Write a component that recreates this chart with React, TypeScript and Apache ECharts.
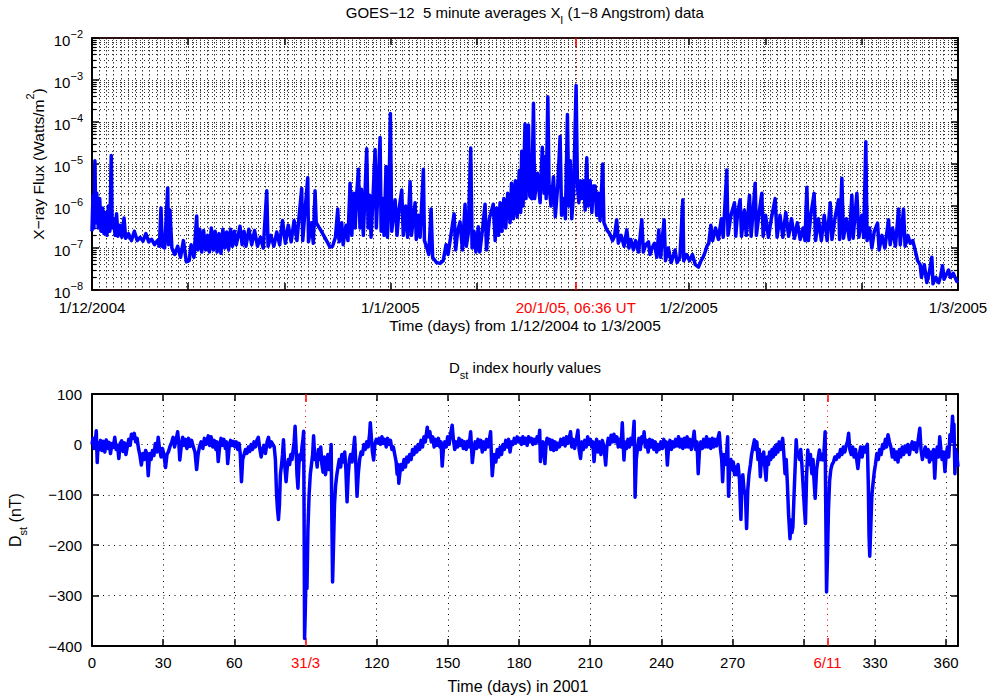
import React, { useEffect, useRef } from 'react';
import * as echarts from 'echarts';

// ---------- GOES-12 X-ray flux (days since 1/12/2004, W/m^2) ----------
const xrayPoints: [number, number][] = [
  [0.0, 2.5e-7], [0.1, 1.8e-6], [0.2, 3e-7], [0.3, 1.2e-5], [0.4, 4e-7], [0.5, 2e-6], [0.65, 3e-7], [0.8, 1.5e-6],
  [0.95, 2.5e-7], [1.1, 9e-7], [1.25, 2.2e-7], [1.4, 7e-7], [1.55, 2e-7], [1.7, 1e-6], [1.85, 2.5e-7], [2.0, 1.6e-5],
  [2.1, 3e-7], [2.25, 5e-7], [2.4, 2e-7], [2.55, 6.5e-7], [2.7, 1.9e-7], [2.9, 3.5e-7], [3.1, 1.8e-7], [3.33, 5.2e-7],
  [3.5, 1.7e-7], [3.8, 2.2e-7], [4.1, 1.5e-7], [4.4, 2.5e-7], [4.7, 1.5e-7], [5.0, 1.8e-7], [5.3, 1.45e-7], [5.6, 2.2e-7],
  [5.9, 1.4e-7], [6.2, 1.6e-7], [6.5, 1.2e-7], [6.8, 1.5e-7], [7.0, 1.1e-7], [7.17, 9e-7], [7.3, 1.1e-7], [7.55, 1e-7],
  [7.87, 2.7e-6], [7.95, 1.2e-7], [8.1, 8e-7], [8.3, 1e-7], [8.6, 7e-8], [8.9, 1.1e-7], [9.2, 6e-8], [9.5, 1.5e-7],
  [9.8, 4.7e-8], [10.1, 5e-8], [10.3, 1.2e-7], [10.6, 6e-8], [10.88, 5.8e-7], [11.0, 9e-8], [11.2, 2.8e-7], [11.4, 8e-8],
  [11.6, 2.6e-7], [11.8, 9e-8], [12.0, 2e-7], [12.2, 8e-8], [12.4, 3e-7], [12.6, 9e-8], [12.8, 2.5e-7], [13.0, 8e-8],
  [13.2, 2.2e-7], [13.4, 7.5e-8], [13.6, 2.8e-7], [13.8, 1e-7], [14.0, 2.4e-7], [14.2, 9e-8], [14.4, 2.8e-7], [14.6, 1.1e-7],
  [14.8, 2.5e-7], [15.0, 1.2e-7], [15.38, 3.3e-7], [15.6, 1.2e-7], [15.8, 2.5e-7], [16.0, 1.1e-7], [16.3, 2.8e-7], [16.6, 1.2e-7],
  [16.9, 2.6e-7], [17.2, 1.1e-7], [17.5, 1.8e-7], [17.8, 1e-7], [18.16, 2.3e-6], [18.3, 1.1e-7], [18.6, 2e-7], [18.9, 1.1e-7],
  [19.2, 2.4e-7], [19.5, 1.2e-7], [19.8, 4.5e-7], [20.1, 1.3e-7], [20.4, 3.5e-7], [20.7, 1.4e-7], [21.0, 4.5e-7], [21.3, 1.5e-7],
  [21.5, 5e-7], [21.79, 2.6e-6], [21.9, 1.5e-7], [22.1, 6e-7], [22.42, 4.7e-6], [22.5, 1.4e-7], [22.8, 4e-7], [23.0, 1.3e-7],
  [23.18, 2.3e-6], [23.3, 4e-7], [23.8, 2.6e-7], [24.3, 1.6e-7], [24.74, 1.05e-7], [25.0, 1.1e-7], [25.3, 1.8e-7], [25.54, 8.5e-7],
  [25.7, 1.4e-7], [25.95, 4e-7], [26.1, 1.2e-7], [26.4, 3.5e-7], [26.6, 1.5e-7], [26.82, 3.5e-6], [27.0, 2e-7], [27.2, 2e-6],
  [27.35, 3e-7], [27.5, 1.8e-6], [27.69, 7.5e-6], [27.85, 3e-7], [28.0, 2.5e-6], [28.2, 2e-7], [28.35, 1.5e-6], [28.55, 2.3e-5],
  [28.7, 3e-7], [28.85, 1.8e-6], [29.0, 1.8e-7], [29.2, 1.5e-6], [29.42, 2.2e-5], [29.55, 3e-7], [29.7, 2e-6], [29.94, 4.3e-5],
  [30.05, 2.5e-7], [30.2, 1.5e-6], [30.35, 2e-7], [30.56, 8.7e-6], [30.7, 1.8e-7], [30.85, 1.2e-6], [31.01, 1.6e-4], [31.15, 2.5e-7],
  [31.5, 1.4e-6], [31.7, 2e-7], [31.9, 8e-7], [32.19, 2.4e-6], [32.35, 2e-7], [32.6, 1e-6], [32.8, 1.8e-7], [33.06, 3.8e-6],
  [33.2, 2e-7], [33.58, 1.2e-6], [33.7, 1.6e-7], [33.9, 6e-7], [34.1, 1.8e-7], [34.44, 7.5e-6], [34.55, 1.5e-7], [34.8, 1e-7],
  [35.0, 7e-8], [35.24, 8.5e-7], [35.4, 6e-8], [35.8, 4.5e-8], [36.17, 4.3e-8], [36.5, 5e-8], [36.8, 1.2e-7], [37.0, 7e-8],
  [37.3, 2e-7], [37.63, 6.5e-7], [37.8, 9e-8], [38.0, 2.5e-7], [38.25, 4.2e-7], [38.5, 9e-8], [38.77, 1.1e-6], [38.9, 1.1e-7],
  [39.1, 2.2e-7], [39.36, 2.4e-5], [39.5, 1e-7], [39.7, 2.5e-7], [39.9, 8e-8], [40.14, 3.2e-7], [40.3, 8e-8], [40.6, 3e-7],
  [40.85, 1.1e-6], [41.0, 9e-8], [41.3, 5e-7], [41.7, 1.1e-6], [41.9, 1.5e-7], [42.06, 9e-7], [42.25, 2e-7], [42.41, 1.2e-6],
  [42.6, 2.5e-7], [42.8, 1.5e-6], [43.0, 3e-7], [43.2, 2e-6], [43.45, 4e-7], [43.6, 3.5e-6], [43.8, 5e-7], [44.0, 4e-6],
  [44.2, 5.5e-7], [44.4, 7e-6], [44.55, 7e-7], [44.66, 2e-5], [44.8, 1e-6], [45.0, 9e-5], [45.1, 1.5e-6], [45.36, 8.5e-5],
  [45.5, 1.7e-6], [45.7, 1.5e-6], [45.88, 2.8e-4], [46.0, 1.5e-6], [46.3, 6e-6], [46.57, 1.2e-6], [46.8, 2.5e-5], [47.0, 2e-6],
  [47.1, 1.5e-5], [47.2, 1.5e-6], [47.37, 4e-4], [47.5, 3e-6], [47.7, 1e-6], [47.96, 5e-6], [48.15, 5.6e-7], [48.4, 3e-6],
  [48.65, 4.5e-5], [48.8, 6e-7], [49.0, 1.5e-6], [49.2, 5e-7], [49.41, 1.5e-4], [49.55, 1e-6], [49.7, 1.2e-5], [49.86, 5e-7],
  [50.05, 2e-6], [50.31, 7.4e-4], [50.45, 3e-6], [50.6, 1.2e-6], [50.75, 4e-6], [50.9, 1.5e-6], [51.1, 4e-6], [51.25, 8e-7],
  [51.42, 1.4e-5], [51.55, 1e-6], [51.77, 4e-6], [51.95, 7e-7], [52.1, 3e-6], [52.29, 3e-6], [52.45, 6e-7], [52.63, 2e-6],
  [52.8, 4.5e-7], [53.08, 1e-5], [53.2, 4e-7], [53.5, 2.7e-7], [53.8, 2.2e-7], [54.1, 1.5e-7], [54.3, 1.9e-7], [54.53, 4.7e-7],
  [54.7, 1.3e-7], [55.0, 2e-7], [55.3, 1.1e-7], [55.58, 2.7e-7], [55.8, 1e-7], [56.0, 1.6e-7], [56.27, 9e-8], [56.5, 1.5e-7],
  [56.8, 8e-8], [57.14, 4.7e-7], [57.3, 8e-8], [57.55, 1.2e-7], [57.83, 1.4e-7], [58.0, 7e-8], [58.2, 1e-7], [58.45, 1.3e-7],
  [58.7, 6e-8], [58.9, 2.7e-7], [59.1, 6e-8], [59.3, 2e-7], [59.46, 4.7e-7], [59.6, 5e-8], [59.9, 1e-7], [60.2, 4.5e-8],
  [60.6, 9e-8], [60.8, 4.5e-8], [61.1, 6e-8], [61.4, 1.4e-6], [61.5, 5e-8], [61.8, 7e-8], [62.1, 5e-8], [62.4, 7e-8],
  [62.7, 4e-8], [63.03, 3.5e-8], [63.3, 5e-8], [63.5, 6e-8], [63.72, 8e-8], [63.9, 1.1e-7], [64.1, 1.3e-7], [64.31, 3.5e-7],
  [64.5, 1.5e-7], [64.8, 3e-7], [65.1, 1.6e-7], [65.4, 5e-7], [65.6, 1.8e-7], [65.97, 7.2e-6], [66.1, 2e-7], [66.4, 6e-7],
  [66.77, 1.2e-6], [66.9, 1.9e-7], [67.1, 7e-7], [67.36, 1.4e-6], [67.5, 1.9e-7], [67.8, 8e-7], [68.0, 2e-7], [68.33, 1.8e-6],
  [68.5, 1.9e-7], [68.7, 7e-7], [68.92, 3.5e-6], [69.05, 2e-7], [69.3, 6e-7], [69.61, 2e-6], [69.75, 1.9e-7], [70.0, 6e-7],
  [70.3, 1.8e-7], [70.6, 5e-7], [71.0, 1.5e-6], [71.2, 1.8e-7], [71.5, 6e-7], [71.8, 1.8e-7], [72.1, 7e-7], [72.4, 1.9e-7],
  [72.7, 5e-7], [73.0, 1.7e-7], [73.3, 4e-7], [73.6, 1.6e-7], [73.9, 3e-7], [74.1, 1.5e-7], [74.29, 2.8e-6], [74.45, 1.5e-7],
  [74.7, 6e-7], [75.05, 2e-6], [75.2, 1.5e-7], [75.5, 5e-7], [75.8, 1.5e-7], [76.1, 6e-7], [76.4, 1.5e-7], [76.72, 1.2e-6],
  [76.9, 1.6e-7], [77.2, 5e-7], [77.58, 1.4e-6], [77.7, 1.6e-7], [77.93, 4.6e-6], [78.1, 1.7e-7], [78.4, 5e-7], [78.7, 1.6e-7],
  [78.97, 1.8e-6], [79.1, 1.7e-7], [79.49, 2e-6], [79.7, 1.8e-7], [80.0, 6e-7], [80.2, 1.8e-7], [80.42, 3.4e-5], [80.55, 1.5e-7],
  [80.8, 3e-7], [81.05, 1e-7], [81.3, 2.5e-7], [81.64, 3.9e-7], [81.8, 9e-8], [82.1, 2e-7], [82.4, 1e-7], [82.78, 4.7e-7],
  [82.95, 1.2e-7], [83.2, 3e-7], [83.5, 1.1e-7], [83.82, 8.5e-7], [84.0, 1.2e-7], [84.34, 8.5e-7], [84.5, 1.1e-7], [84.8, 2e-7],
  [85.03, 1.3e-7], [85.3, 1.5e-7], [85.6, 8e-8], [85.8, 5e-8], [86.07, 4e-8], [86.2, 2e-8], [86.5, 4e-8], [86.76, 1.5e-8],
  [87.0, 2.5e-8], [87.28, 6e-8], [87.4, 1.4e-8], [87.7, 2e-8], [88.0, 1.5e-8], [88.2, 2.2e-8], [88.39, 3.8e-8], [88.55, 1.8e-8],
  [89.02, 3e-8], [89.2, 2e-8], [89.5, 2.5e-8], [89.88, 1.6e-8], [90.0, 1.7e-8],
];

// ---------- Dst index (day of 2001, nT) ----------
const dstPoints: [number, number][] = [
  [0, 0], [0.4, 12], [0.9, -8], [1.4, 6], [1.8, 27], [2.2, -36], [2.6, 4], [3.1, -10], [3.6, 8], [4.2, -12], [4.8, 6], [5.4, -15],
  [6.0, 9], [6.6, -8], [7.2, 4], [7.8, -18], [8.4, 2], [9.0, -6], [9.6, 14], [10.2, -10], [10.8, -2], [11.3, -28], [11.9, 2],
  [12.5, 7], [13.1, -14], [13.7, 3], [14.3, -20], [14.9, -4], [15.5, 10], [16.1, -2], [16.6, 20], [17.2, 12], [17.8, 22],
  [18.4, 5], [19.0, 12], [19.6, -8], [20.2, -22], [20.8, -41], [21.4, -18], [22.0, -30], [22.6, -12], [23.2, -20], [23.7, -62],
  [24.3, -18], [24.9, -30], [25.5, -12], [26.1, -22], [26.7, 2], [27.3, -15], [27.9, 14], [28.5, -10], [29.1, -25], [29.7, -8],
  [30.3, -20], [31.0, -46], [31.6, -20], [32.2, -15], [32.8, -5], [33.5, 3], [34.2, 14], [34.8, -5], [35.4, 8], [36.1, 25],
  [36.6, 2], [37.0, -31], [37.6, -5], [38.2, 14], [38.8, -2], [39.4, 10], [40.0, -8], [40.7, 12], [41.3, -4], [42.0, 8],
  [42.7, -5], [43.4, -15], [44.1, -50], [44.7, -20], [45.3, -5], [46.0, 5], [46.7, -8], [47.4, 12], [48.1, 0], [48.6, 10],
  [49.0, 17], [49.6, -2], [50.2, 15], [50.9, -5], [51.5, 8], [52.2, -10], [52.7, 5], [53.2, -34], [53.8, -5], [54.4, 12],
  [55.0, -2], [55.6, 10], [56.2, -8], [56.7, 5], [57.2, -38], [57.8, -5], [58.4, 8], [59.0, -2], [59.6, 6], [60.2, -5],
  [60.8, 5], [61.4, -10], [62.0, 2], [62.5, -20], [63.0, -74], [63.5, -30], [64.1, -20], [64.7, -10], [65.3, -18], [65.9, -5],
  [66.5, -14], [67.1, 0], [67.7, -10], [68.3, 5], [68.9, -5], [69.5, 8], [70.1, 14], [70.7, -8], [71.3, -25], [71.9, -10],
  [72.5, -2], [73.1, -18], [73.8, 5], [74.4, 14], [75.0, -5], [75.6, 5], [76.2, 0], [76.8, -5], [77.3, -30], [77.8, -100],
  [78.2, -130], [78.6, -149], [79.0, -120], [79.4, -60], [79.9, -40], [80.3, -20], [80.7, 9], [81.2, -40], [81.8, -74],
  [82.3, -45], [82.8, -30], [83.3, -40], [83.8, -20], [84.3, -30], [84.8, -10], [85.2, 5], [85.6, 36], [86.0, -5], [86.4, -60],
  [86.8, -87], [87.2, -40], [87.6, -20], [88.1, -30], [88.5, -5], [88.9, 10], [89.2, 26], [89.4, -150], [89.6, -385],
  [89.9, -330], [90.2, -250], [90.6, -286], [91.0, -170], [91.5, -100], [92.0, -60], [92.5, -40], [93.0, -20], [93.4, 17],
  [93.9, -30], [94.4, -20], [94.9, -45], [95.4, -10], [95.9, -30], [96.4, -5], [96.9, -40], [97.4, -55], [97.9, -25],
  [98.4, -60], [98.9, -40], [99.4, -20], [99.9, -50], [100.4, -30], [100.8, 0], [101.1, -150], [101.4, -273], [101.8, -200],
  [102.2, -120], [102.7, -80], [103.2, -60], [103.7, -45], [104.2, -30], [104.8, -45], [105.3, -20], [105.9, -35], [106.5, -15],
  [107.0, -50], [107.5, -114], [108.0, -60], [108.5, -30], [109.0, -20], [109.6, -35], [110.2, -10], [110.7, 14], [111.2, -40],
  [111.7, -103], [112.2, -60], [112.8, -30], [113.4, -15], [114.0, -20], [114.6, 0], [115.2, -10], [115.8, 5], [116.4, -5],
  [117.0, 20], [117.3, 43], [117.8, 10], [118.2, -15], [118.7, -31], [119.2, 0], [119.8, 10], [120.4, 3], [121.0, 12],
  [121.6, 0], [122.2, 15], [122.8, 2], [123.4, 10], [124.0, -5], [124.6, 12], [125.2, 0], [125.8, 8], [126.4, -10], [127.0, -5],
  [127.6, -20], [128.2, -35], [128.6, -59], [129.0, -40], [129.3, -77], [129.8, -55], [130.3, -40], [130.9, -50], [131.5, -30],
  [132.1, -45], [132.7, -25], [133.3, -35], [133.9, -20], [134.5, -30], [135.1, -10], [135.7, -20], [136.3, -5], [136.9, -15],
  [137.5, 0], [138.1, -10], [138.7, 8], [139.3, -5], [139.9, 15], [140.5, 5], [141.3, 34], [141.8, 15], [142.4, 25], [143.0, 5],
  [143.6, 15], [144.2, -5], [144.8, 10], [145.4, -2], [146.0, 12], [146.6, -5], [147.1, 5], [147.6, -43], [148.1, -10],
  [148.7, 5], [149.3, -5], [149.9, 15], [150.5, 0], [151.1, 20], [151.8, 38], [152.3, 10], [152.9, -10], [153.5, 5], [154.1, -5],
  [154.7, 12], [155.3, -2], [155.9, 8], [156.5, -8], [157.1, 5], [157.7, -10], [158.3, 6], [158.9, -5], [159.6, 25],
  [160.3, -36], [160.9, -10], [161.5, 5], [162.1, -8], [162.7, 10], [163.3, -5], [163.9, 8], [164.5, -15], [165.1, 5],
  [165.7, -10], [166.3, 10], [166.9, -5], [167.5, 10], [168.0, 25], [168.4, -30], [168.7, -62], [169.1, -40], [169.5, -20],
  [170.2, -35], [170.8, -10], [171.4, -25], [172.0, -5], [172.6, -20], [173.2, 0], [173.8, -10], [174.4, 8], [175.0, -5],
  [175.6, 10], [176.2, -15], [176.8, 5], [177.4, 0], [178.0, 12], [178.6, 3], [179.2, 15], [179.8, 5], [180.4, 12], [181.0, 0],
  [181.6, 15], [182.2, 2], [182.8, 12], [183.4, -2], [184.0, 15], [184.6, 5], [185.2, 12], [185.8, 0], [186.4, 10], [187.0, 2],
  [187.6, 15], [188.2, 5], [188.7, 28], [189.0, -34], [189.5, -5], [190.1, 5], [190.9, -38], [191.3, -5], [191.8, 12],
  [192.3, 2], [192.8, 10], [193.4, -10], [194.0, 8], [194.6, -12], [195.2, 5], [195.8, -10], [196.4, 2], [197.0, -5],
  [197.6, 10], [198.2, 0], [198.8, 12], [199.4, -3], [200.0, 15], [200.6, 2], [201.7, 25], [202.2, -5], [202.8, 10],
  [203.4, -8], [204.0, 5], [204.8, 28], [205.3, -10], [205.9, -28], [206.5, 5], [207.1, -10], [207.7, 8], [208.3, -5],
  [208.9, 15], [209.5, 0], [210.1, 10], [210.6, -5], [211.1, 5], [211.6, -34], [212.1, -5], [212.7, 10], [213.3, -15],
  [213.9, 5], [214.5, -20], [215.1, 8], [215.8, -5], [216.5, -41], [217.0, -5], [217.6, 12], [218.2, 0], [218.8, 18],
  [219.4, 5], [220.0, 20], [220.6, 5], [221.2, 15], [221.8, -5], [222.4, 10], [223.0, -5], [223.5, 43], [224.2, -31],
  [224.7, 5], [225.3, -8], [225.9, 10], [226.5, -5], [227.1, 12], [227.7, 0], [228.1, 20], [228.5, 46], [228.9, -105],
  [229.4, -30], [230.0, -5], [230.5, 12], [231.1, -10], [231.7, 15], [232.3, 5], [232.7, 25], [233.2, -5], [233.8, 8],
  [234.4, -15], [235.0, 10], [235.6, -5], [236.2, 8], [236.8, -10], [237.4, 5], [238.0, -15], [238.6, 0], [239.2, -10],
  [239.8, 5], [240.4, -8], [241.0, 10], [241.6, -5], [242.0, 5], [242.5, -41], [243.0, -5], [243.6, 8], [244.2, -10],
  [244.8, 5], [245.4, -5], [246.0, 10], [246.6, -3], [247.2, 15], [247.8, -5], [248.4, 10], [249.0, -8], [249.6, 12],
  [250.2, -5], [250.8, 15], [251.4, -5], [252.0, 10], [252.6, -10], [253.2, 5], [253.8, 26], [254.4, -10], [255.0, 5],
  [255.5, -58], [256.0, -15], [256.6, 5], [257.2, -8], [257.8, 10], [258.4, -5], [259.0, 15], [259.6, -5], [260.2, 10],
  [260.8, -8], [261.4, 12], [262.0, -5], [262.6, 10], [263.2, -3], [263.8, 12], [264.4, 23], [264.9, -10], [265.4, -30],
  [265.8, -74], [266.3, -20], [266.9, -40], [267.4, -25], [267.9, 15], [268.3, -103], [268.8, -40], [269.3, -30], [269.8, -50],
  [270.3, -35], [270.8, -60], [271.3, -45], [271.8, -60], [272.3, -40], [272.9, -70], [273.5, -149], [273.9, -80], [274.3, -60],
  [274.8, -90], [275.4, -100], [275.9, -167], [276.4, -90], [276.9, -60], [277.5, -40], [278.0, -20], [278.6, -5], [279.2, 9],
  [279.7, -10], [280.2, 5], [280.7, -30], [281.2, -10], [281.7, -64], [282.2, -20], [282.7, -40], [283.1, -15], [283.6, -45],
  [284.1, -71], [284.6, -25], [285.1, -40], [285.6, -15], [286.1, -30], [286.6, -10], [287.1, -25], [287.6, -5], [288.1, -20],
  [288.6, 0], [289.1, -15], [289.6, 5], [290.2, -10], [291.1, 12], [291.6, -20], [292.1, -58], [292.6, -30], [293.1, -80],
  [293.6, -140], [294.2, -187], [294.6, -150], [295.0, -175], [295.4, -164], [295.9, -100], [296.4, -40], [296.8, 9],
  [297.2, -20], [297.7, -18], [298.2, -30], [298.7, -10], [299.2, -40], [299.8, -90], [300.3, -130], [300.7, -157],
  [301.2, -60], [301.7, -11], [302.2, -40], [302.8, -20], [303.4, -58], [303.9, -30], [304.3, -70], [304.8, -107], [305.4, -50],
  [306.0, -30], [306.6, -11], [307.1, -30], [307.6, -20], [308.0, -31], [308.5, -15], [309.0, 25], [309.3, -150], [309.6, -293],
  [310.0, -220], [310.4, -130], [310.9, -71], [311.4, -50], [311.9, -40], [312.5, -35], [313.1, -25], [313.7, -30], [314.3, -20],
  [314.9, -25], [315.5, -10], [316.1, -20], [316.7, -5], [317.3, -15], [317.9, -2], [318.4, 5], [318.9, 22], [319.4, -10],
  [320.0, -20], [320.6, -5], [321.2, -25], [321.8, -10], [322.3, -30], [322.8, -48], [323.4, -20], [324.0, -5], [324.6, -25],
  [325.2, -5], [325.8, -15], [326.3, -5], [326.8, 0], [327.2, -80], [327.5, -180], [327.8, -222], [328.2, -170], [328.7, -100],
  [329.2, -77], [329.7, -55], [330.2, -40], [330.8, -18], [331.4, -30], [332.0, -10], [332.6, -20], [333.2, 0], [333.8, -8],
  [334.4, 10], [334.9, -5], [335.5, 19], [336.1, 5], [336.7, -5], [337.3, -25], [337.9, -10], [338.5, -30], [339.1, -15],
  [339.7, -35], [340.3, -10], [340.9, -25], [341.5, -5], [342.1, -20], [342.7, -3], [343.3, -15], [343.9, 0], [344.5, -20],
  [345.1, -5], [345.7, 5], [346.3, -10], [346.9, 3], [347.5, -15], [348.1, 5], [348.9, 32], [349.4, -10], [350.0, -30],
  [350.6, -15], [351.2, -5], [351.8, -25], [352.4, -10], [353.0, -35], [353.6, -15], [354.2, -30], [354.7, -10], [355.2, -67],
  [355.7, -20], [356.3, -5], [356.8, -25], [357.3, 15], [357.8, -10], [358.3, -30], [358.9, -15], [359.5, -54], [360.0, -20],
  [360.6, -5], [361.1, -25], [361.6, 19], [362.1, 5], [362.7, 56], [363.0, 30], [363.3, 40], [363.7, -58], [364.0, -10],
  [364.5, -20], [365, -44],
];

// ---------- tick / label definitions ----------
const topTickDays = [0, 10, 20, 31, 40, 62, 70, 80, 90];
const topLabelDays = [0, 31, 62, 90];
const topLabelTexts = ['1/12/2004', '1/1/2005', '1/2/2005', '1/3/2005'];
const flareDay = 50.275;
const flareLabel = '20/1/05, 06:36 UT';
const topMinorGridStep = 0.75;
const fluxDecades = [-8, -7, -6, -5, -4, -3];
const minorMultipliers = [2, 3, 4, 5, 6, 7, 8, 9];

const dstTickDays = [0, 30, 60, 120, 150, 180, 210, 240, 270, 300, 330, 360];
const dstLabelDays = [0, 30, 60, 90, 120, 150, 180, 210, 240, 270, 310, 330, 360];
const dstEventDays = [90, 310];
const dstEventLabels = ['31/3', '6/11'];

const FONT = '"Liberation Sans", Arial, Helvetica, sans-serif';
const BLUE = '#0000ff';
const RED = '#ff0000';

const minorExponents: number[] = [];
fluxDecades.forEach((d) => minorMultipliers.forEach((m) => minorExponents.push(d + Math.log10(m))));

const minus = (s: string) => s.replace('-', '\u2212');

function buildOption(): any {
  const hide = { show: false };
  const frameLine = (color = '#000') => ({ show: true, onZero: false, lineStyle: { color, width: 2 } });
  const dots = (color: string, dash: number[]) => ({ show: true, lineStyle: { color, width: 1, type: dash } });

  const xAxis: any[] = [
    // 0: top data axis / minor vertical grid
    {
      gridIndex: 0, type: 'value', min: 0, max: 90, interval: topMinorGridStep, position: 'bottom',
      axisLine: { show: false, onZero: false }, axisTick: hide, axisLabel: hide,
      splitLine: dots('#333', [1.5, 2.5]),
    },
    // 1: top bottom axis with major ticks and date labels
    {
      gridIndex: 0, type: 'value', min: 0, max: 90, position: 'bottom',
      axisLine: frameLine('#2a1010'),
      axisTick: { show: true, inside: true, length: 7, customValues: topTickDays, lineStyle: { color: '#000', width: 1.5 } },
      axisLabel: {
        show: true, customValues: topLabelDays, margin: 10, color: '#000', fontSize: 15, fontFamily: FONT,
        formatter: (v: number) => topLabelTexts[topLabelDays.indexOf(Math.round(v))] ?? '',
      },
      splitLine: dots('#333', [1, 3]),
    },
    // 2: top mirror
    {
      gridIndex: 0, type: 'value', min: 0, max: 90, position: 'top',
      axisLine: frameLine('#2a1010'),
      axisTick: { show: true, inside: true, length: 7, customValues: topTickDays, lineStyle: { color: '#000', width: 1.5 } },
      axisLabel: hide, splitLine: hide,
    },
    // 3: red flare marker (bottom)
    {
      gridIndex: 0, type: 'value', min: 0, max: 90, position: 'bottom',
      axisLine: { show: false, onZero: false },
      axisTick: { show: true, inside: true, length: 8, customValues: [flareDay], lineStyle: { color: RED, width: 1.5 } },
      axisLabel: {
        show: true, customValues: [flareDay], margin: 10, color: RED, fontSize: 15, fontFamily: FONT,
        formatter: () => flareLabel,
      },
      splitLine: dots(RED, [1, 3]),
    },
    // 4: red flare marker (top)
    {
      gridIndex: 0, type: 'value', min: 0, max: 90, position: 'top',
      axisLine: { show: false, onZero: false },
      axisTick: { show: true, inside: true, length: 8, customValues: [flareDay], lineStyle: { color: RED, width: 1.5 } },
      axisLabel: hide, splitLine: hide,
    },
    // 5: Dst data axis
    {
      gridIndex: 1, type: 'value', min: 0, max: 365, position: 'bottom',
      axisLine: frameLine(),
      axisTick: { show: true, inside: true, length: 7, customValues: dstTickDays, lineStyle: { color: '#000', width: 1.5 } },
      axisLabel: {
        show: true, customValues: dstLabelDays, margin: 9, color: '#000', fontSize: 15, fontFamily: FONT,
        formatter: (v: number) => {
          const i = dstEventDays.indexOf(Math.round(v));
          return i >= 0 ? `{r|${dstEventLabels[i]}}` : String(Math.round(v));
        },
        rich: { r: { color: RED, fontSize: 15, fontFamily: FONT } },
      },
      splitLine: dots('#000', [1, 4.5]),
    },
    // 6: Dst top mirror
    {
      gridIndex: 1, type: 'value', min: 0, max: 365, position: 'top',
      axisLine: frameLine(),
      axisTick: { show: true, inside: true, length: 7, customValues: dstTickDays, lineStyle: { color: '#000', width: 1.5 } },
      axisLabel: hide, splitLine: hide,
    },
    // 7: Dst red event markers (bottom)
    {
      gridIndex: 1, type: 'value', min: 0, max: 365, position: 'bottom',
      axisLine: { show: false, onZero: false },
      axisTick: { show: true, inside: true, length: 8, customValues: dstEventDays, lineStyle: { color: RED, width: 1.5 } },
      axisLabel: hide,
      splitLine: dots(RED, [1, 4.5]),
    },
    // 8: Dst red event markers (top)
    {
      gridIndex: 1, type: 'value', min: 0, max: 365, position: 'top',
      axisLine: { show: false, onZero: false },
      axisTick: { show: true, inside: true, length: 8, customValues: dstEventDays, lineStyle: { color: RED, width: 1.5 } },
      axisLabel: hide, splitLine: hide,
    },
  ];

  const logRich = {
    b: { fontSize: 15, lineHeight: 20, verticalAlign: 'bottom', fontFamily: FONT, color: '#000' },
    s: { fontSize: 11, lineHeight: 11, verticalAlign: 'top', fontFamily: FONT, color: '#000' },
  };

  const yAxis: any[] = [
    // 0: log flux axis (left) with decade labels
    {
      gridIndex: 0, type: 'log', logBase: 10, min: 1e-8, max: 1e-2, splitNumber: 6, position: 'left',
      axisLine: frameLine(),
      axisTick: { show: true, inside: true, length: 7, lineStyle: { color: '#000', width: 1.5 } },
      axisLabel: {
        show: true, margin: 9,
        formatter: (v: number) => `{b|10}{s|${minus(String(Math.round(Math.log10(v))))}}`,
        rich: logRich,
      },
      splitLine: dots('#333', [1, 3]),
    },
    // 1: minor decades (left)
    {
      gridIndex: 0, type: 'value', min: -8, max: -2, position: 'left',
      axisLine: { show: false, onZero: false },
      axisTick: { show: true, inside: true, length: 4, customValues: minorExponents, lineStyle: { color: '#000', width: 1.2 } },
      axisLabel: hide,
      splitLine: dots('#333', [1, 3]),
    },
    // 2: log right mirror
    {
      gridIndex: 0, type: 'log', logBase: 10, min: 1e-8, max: 1e-2, splitNumber: 6, position: 'right',
      axisLine: frameLine(),
      axisTick: { show: true, inside: true, length: 7, lineStyle: { color: '#000', width: 1.5 } },
      axisLabel: hide, splitLine: hide,
    },
    // 3: minor right
    {
      gridIndex: 0, type: 'value', min: -8, max: -2, position: 'right',
      axisLine: { show: false, onZero: false },
      axisTick: { show: true, inside: true, length: 4, customValues: minorExponents, lineStyle: { color: '#000', width: 1.2 } },
      axisLabel: hide, splitLine: hide,
    },
    // 4: Dst axis (left)
    {
      gridIndex: 1, type: 'value', min: -400, max: 100, interval: 100, position: 'left',
      axisLine: frameLine(),
      axisTick: { show: true, inside: true, length: 7, lineStyle: { color: '#000', width: 1.5 } },
      axisLabel: { show: true, margin: 10, color: '#000', fontSize: 15, fontFamily: FONT, formatter: (v: number) => minus(String(v)) },
      splitLine: dots('#000', [1, 4.5]),
    },
    // 5: Dst right mirror
    {
      gridIndex: 1, type: 'value', min: -400, max: 100, interval: 100, position: 'right',
      axisLine: frameLine(),
      axisTick: { show: true, inside: true, length: 7, lineStyle: { color: '#000', width: 1.5 } },
      axisLabel: hide, splitLine: hide,
    },
  ];

  const txt = (x: number, y: number, text: string, rich: any, rotation = 0) => ({
    type: 'text', x, y, rotation, z: 100,
    style: { text, rich, fill: '#000', fontFamily: FONT, fontSize: 15, align: 'center', verticalAlign: 'middle' },
  });
  const subRich = (size: number) => ({
    b: { fontSize: size, lineHeight: size + 5, verticalAlign: 'top', fontFamily: FONT, fill: '#000' },
    sub: { fontSize: 11, lineHeight: 11, verticalAlign: 'bottom', fontFamily: FONT, fill: '#000' },
  });
  const supRich = {
    b: { fontSize: 15.5, lineHeight: 22, verticalAlign: 'bottom', fontFamily: FONT, fill: '#000' },
    sup: { fontSize: 11, lineHeight: 11, verticalAlign: 'top', fontFamily: FONT, fill: '#000' },
  };

  return {
    animation: false,
    backgroundColor: '#ffffff',
    textStyle: { fontFamily: FONT },
    grid: [
      { left: 92, top: 38, width: 866, height: 252, outerBoundsMode: 'none', containLabel: false },
      { left: 92, top: 394, width: 866, height: 252, outerBoundsMode: 'none', containLabel: false },
    ],
    xAxis,
    yAxis,
    series: [
      {
        type: 'line', xAxisIndex: 0, yAxisIndex: 0, data: xrayPoints, showSymbol: false, symbol: 'none',
        lineStyle: { color: BLUE, width: 3.5, join: 'round' }, itemStyle: { color: BLUE }, z: 5, silent: true,
      },
      {
        type: 'line', xAxisIndex: 5, yAxisIndex: 4, data: dstPoints, showSymbol: false, symbol: 'none',
        lineStyle: { color: BLUE, width: 3.5, join: 'round' }, itemStyle: { color: BLUE }, z: 5, silent: true,
      },
    ],
    graphic: [
      txt(525, 15, '{b|GOES\u221212  5 minute averages X}{sub|l}{b| (1\u22128 Angstrom) data}', subRich(15)),
      txt(525, 328, '{b|Time (days) from 1/12/2004 to 1/3/2005}', subRich(15.5)),
      txt(35, 164, '{b|X\u2212ray Flux (Watts/m}{sup|2}{b|)}', supRich, Math.PI / 2),
      txt(525, 370, '{b|D}{sub|st}{b| index hourly values}', subRich(15)),
      txt(518, 689, '{b|Time (days) in 2001}', subRich(16)),
      txt(18, 520, '{b|D}{sub|st}{b| (nT)}', subRich(16), Math.PI / 2),
    ],
  };
}

export default function App() {
  const ref = useRef<HTMLDivElement>(null);
  useEffect(() => {
    if (!ref.current) return;
    const chart = echarts.init(ref.current, null, { renderer: 'svg' });
    chart.setOption(buildOption());
    return () => chart.dispose();
  }, []);
  return (
    <div
      ref={ref}
      style={{ position: 'fixed', left: 0, top: 0, width: 992, height: 700, background: '#fff' }}
    />
  );
}
